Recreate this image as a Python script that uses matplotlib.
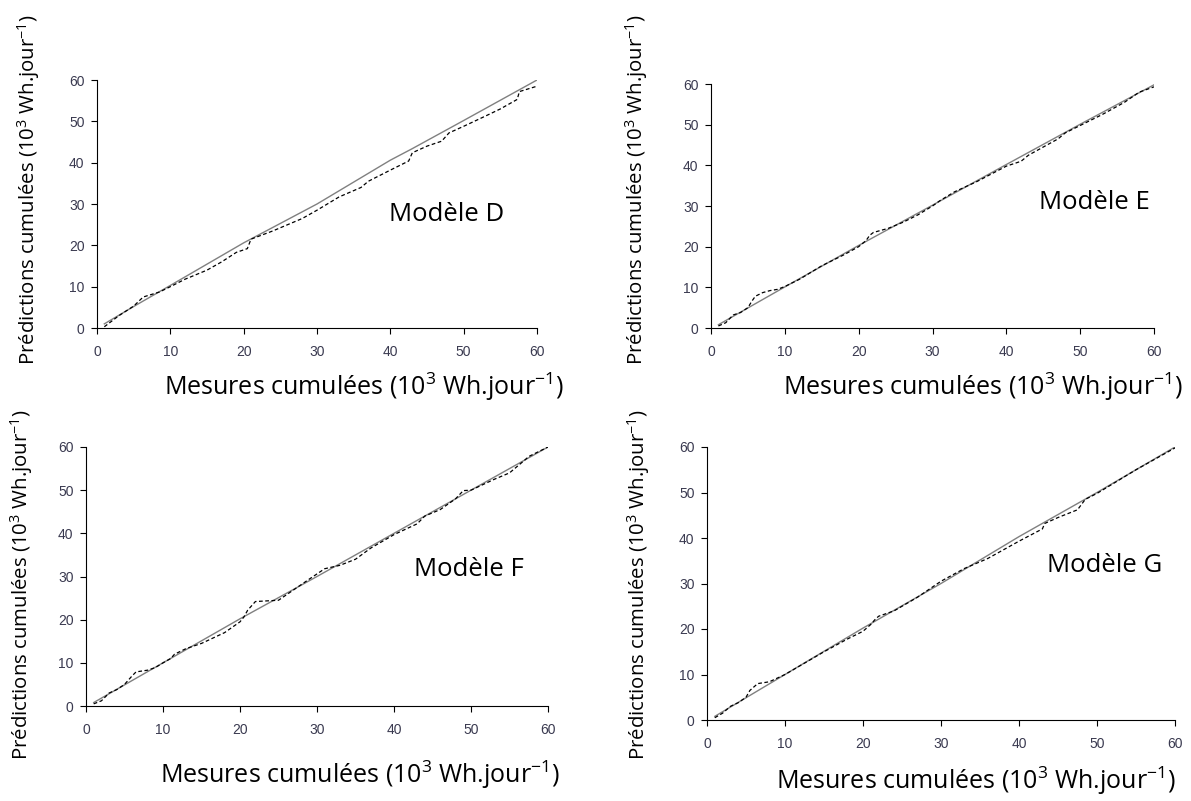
import matplotlib
matplotlib.use("Agg")
import matplotlib.pyplot as plt

# ========== Réglages ==========
plt.rcParams['font.family'] = ['Open Sans', 'DejaVu Sans']
plt.rcParams['mathtext.fontset'] = 'custom'
plt.rcParams['mathtext.rm'] = 'Open Sans'
plt.rcParams['mathtext.it'] = 'Open Sans:italic'

# ========== Données ==========
ticks = [0, 10, 20, 30, 40, 50, 60]

# Modèle D
d_x_solid = [1, 5, 10, 20, 30, 40, 43, 50, 60]
d_y_solid = [1, 5.2, 10.3, 20.6, 30.0, 40.6, 43.4, 50.2, 60.0]
d_x_dash = [1, 3, 5, 6.3, 8.5, 10, 12, 15, 17, 19, 20.5, 21, 22.5, 24, 26, 28, 30,
            33, 36, 37, 40, 42.5, 43, 45, 47, 48, 50, 53, 55, 57.3, 57.6, 60]
d_y_dash = [0.3, 3, 5.3, 7.5, 8.7, 10, 11.8, 14, 16, 18.3, 19.2, 21.5, 22.5, 23.5, 25, 26.5, 28.5,
            31.7, 34, 35.5, 38.2, 40.4, 42.4, 44, 45.2, 47.2, 48.8, 51.3, 53, 55.3, 57.2, 58.5]

# Modèle E
e_x_solid = [1, 10, 20, 30, 40, 50, 60]
e_y_solid = [0.8, 10.1, 20.3, 30.2, 40.2, 50.1, 59.8]
e_x_dash = [1, 2, 3, 4, 5, 5.5, 6, 7, 8, 9, 10, 12, 15, 18, 20, 21, 21.5, 22, 24, 26,
            28, 30, 31, 33, 36, 40, 42, 43, 45, 47, 48, 50, 53, 56, 58, 60]
e_y_dash = [0.5, 1.3, 3.2, 3.8, 5, 6.5, 7.8, 8.7, 9.2, 9.5, 10.2, 12, 15.3, 18, 20, 21.5, 22.8, 23.5, 24.5, 26,
            27.8, 30, 31.3, 33.5, 36, 39.8, 41, 42.5, 44.5, 46.5, 48, 49.8, 52.5, 55.5, 58, 59.3]

# Modèle F
f_x_solid = [1, 10, 20, 30, 40, 50, 60]
f_y_solid = [0.8, 10.0, 20.2, 30.0, 40.0, 50.0, 60.0]
f_x_dash = [1, 2, 3, 4, 5, 6, 6.5, 8, 9, 10, 11, 11.5, 13, 15, 18, 20, 20.5, 21, 22, 25, 29,
            31, 33, 35, 37, 40, 43, 44, 46, 48, 49, 50, 53, 55, 57, 57.5, 60]
f_y_dash = [0.5, 1.2, 3, 3.8, 5, 7, 7.9, 8.3, 8.9, 10, 11, 12, 13.3, 14.5, 17, 19.5, 20.6, 22.2, 24.2, 24.5, 29.4,
            31.8, 32.6, 34, 36.6, 39.7, 42.2, 44, 45.5, 48, 49.9, 50, 52.5, 54, 57, 57.8, 60]

# Modèle G
g_x_solid = [1, 10, 20, 30, 40, 50, 60]
g_y_solid = [0.8, 10.0, 20.2, 30.0, 40.3, 50.0, 60.0]
g_x_dash = [1, 2, 3, 4, 5, 5.5, 6.5, 8, 10, 12, 15, 18, 20, 21, 21.5, 22, 24, 27, 30,
            33, 36, 40, 43, 43.3, 45, 47.5, 48.5, 50, 55, 60]
g_y_dash = [0.5, 1.5, 3, 3.8, 5, 6.5, 8, 8.4, 10, 12, 15, 17.8, 19.5, 21, 22, 22.8, 24, 27, 30.5,
            33.3, 35.5, 39.3, 42, 43.2, 44.5, 46.2, 48.5, 49.8, 55, 59.8]

models = ["Modèle D", "Modèle E", "Modèle F", "Modèle G"]

# ========== Mise en page (tout en pixels de l'image 1191x801) ==========
W, H = 1191, 801
panels = [
    # (gauche, droite, haut, bas) des axes, données, nom (x, y data), xlabel (x, ligne de base), ylabel (ligne de base, centre)
    ((97, 537, 80, 328), (d_x_solid, d_y_solid, d_x_dash, d_y_dash), (47.7, 25.9), (364, 395), (35, 190)),
    ((711, 1154, 84, 328), (e_x_solid, e_y_solid, e_x_dash, e_y_dash), (51.9, 29.3), (983, 395), (643, 190)),
    ((86, 548, 447, 706), (f_x_solid, f_y_solid, f_x_dash, f_y_dash), (49.7, 30.1), (360, 783), (28, 585)),
    ((707, 1175, 447, 720), (g_x_solid, g_y_solid, g_x_dash, g_y_dash), (51.0, 32.5), (976, 789), (645, 585)),
]

xlab = "Mesures cumulées (10$^3$ Wh.jour$^{-1}$)"
ylab = "Prédictions cumulées (10$^3$ Wh.jour$^{-1}$)"

fig = plt.figure(figsize=(W / 100, H / 100), dpi=100)

for name, (box, (xs, ys, xd, yd), npos, xlpos, ylpos) in zip(models, panels):
    l, r, t, b = box
    ax = fig.add_axes([l / W, 1 - b / H, (r - l) / W, (b - t) / H])
    ax.plot(xs, ys, color='#808080', lw=1.0)
    ax.plot(xd, yd, color='black', lw=0.9, dashes=(3, 2))
    ax.set_xlim(0, 60)
    ax.set_ylim(0, 60)
    ax.set_xticks(ticks)
    ax.set_yticks(ticks)
    ax.spines['top'].set_visible(False)
    ax.spines['right'].set_visible(False)
    ax.tick_params(direction='out', length=4, width=0.8, labelsize=10,
                   labelcolor='#3a3a50')
    ax.tick_params(axis='x', pad=8)
    ax.tick_params(axis='y', pad=5)
    for lbl in ax.get_xticklabels() + ax.get_yticklabels():
        lbl.set_family(['Liberation Sans', 'DejaVu Sans'])
    ax.text(npos[0], npos[1], name, fontsize=18.5, ha='center', va='baseline')
    fig.text(xlpos[0] / W, 1 - xlpos[1] / H, xlab, fontsize=18, ha='center', va='baseline')
    fig.text(ylpos[0] / W, 1 - ylpos[1] / H, ylab, fontsize=14.7, ha='center', va='baseline',
             rotation=90, rotation_mode='anchor')

fig.savefig("out.png", dpi=100)
